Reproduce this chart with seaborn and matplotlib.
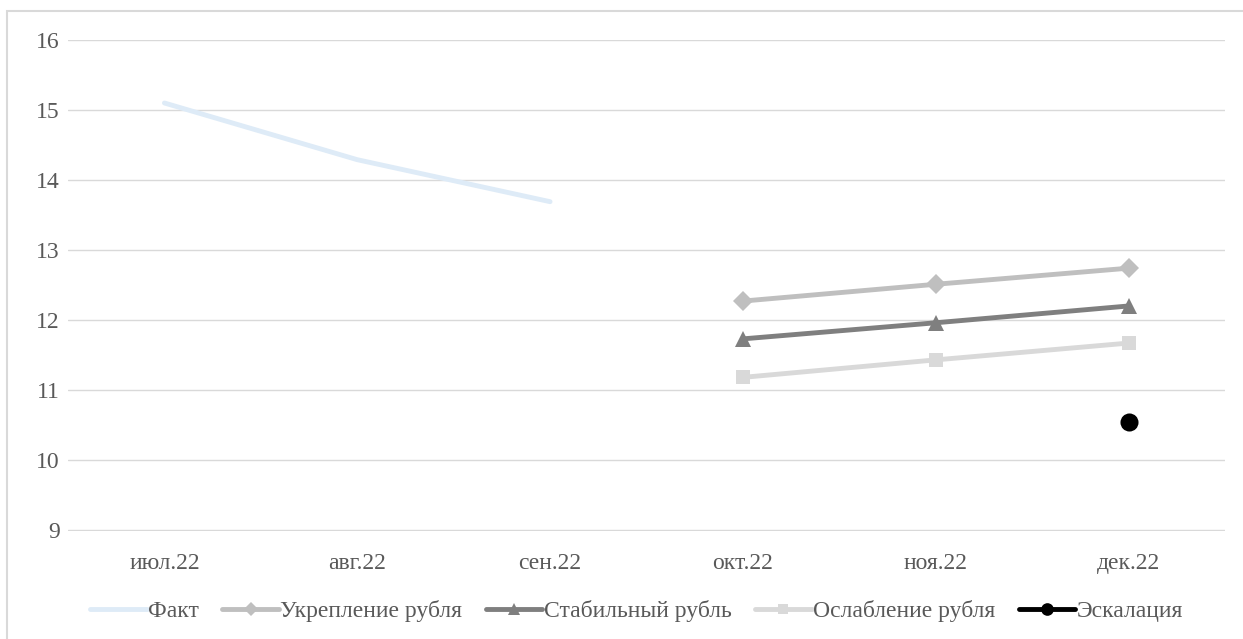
import matplotlib
matplotlib.use("Agg")
import matplotlib.pyplot as plt
import seaborn as sns
import pandas as pd

months = ["июл.22", "авг.22", "сен.22", "окт.22", "ноя.22", "дек.22"]

fact = [15.10, 14.29, 13.69, None, None, None]
strong_rub = [None, None, None, 12.27, 12.51, 12.74]
stable_rub = [None, None, None, 11.73, 11.96, 12.20]
weak_rub = [None, None, None, 11.18, 11.43, 11.67]
escalation = [None, None, None, None, None, 10.54]

series_names = ["Факт", "Укрепление рубля", "Стабильный рубль", "Ослабление рубля", "Эскалация"]
series_values = [fact, strong_rub, stable_rub, weak_rub, escalation]
series_colors = ["#DEEBF7", "#BFBFBF", "#7F7F7F", "#D9D9D9", "#000000"]
series_markers = [None, "D", "^", "s", "o"]
marker_sizes = [0, 10, 12, 10, 13]

sns.set_theme(style="white")
plt.rcParams["font.family"] = ["Liberation Serif", "DejaVu Serif"]

rows = []
for name, vals in zip(series_names, series_values):
    for i, v in enumerate(vals):
        if v is not None:
            rows.append({"series": name, "x": i, "value": v})
df = pd.DataFrame(rows)

fig = plt.figure(figsize=(12.43, 6.39), dpi=100)
ax = fig.add_axes([68 / 1243, 1 - 531 / 639, (1225 - 68) / 1243, (531 - 40) / 639])

for name, color, mk, ms in zip(series_names, series_colors, series_markers, marker_sizes):
    sub = df[df["series"] == name]
    sns.lineplot(data=sub, x="x", y="value", ax=ax, color=color, linewidth=3.5,
                 marker=mk if mk else None, markersize=ms, markeredgewidth=0,
                 label=name, legend=False, zorder=3)

ax.set_xlim(-0.5, 5.5)
ax.set_ylim(8.985, 16)
ax.set_yticks(range(9, 17))
ax.set_xticks(range(len(months)))
ax.set_xticklabels(months)
ax.set_xlabel("")
ax.set_ylabel("")
ax.grid(axis="y", color="#D9D9D9", linewidth=1)
ax.grid(axis="x", visible=False)
for s in ax.spines.values():
    s.set_visible(False)
ax.tick_params(axis="both", length=0, labelsize=17, labelcolor="#595959")
ax.tick_params(axis="x", pad=16)
ax.tick_params(axis="y", pad=6)

handles, labels = ax.get_legend_handles_labels()
leg = fig.legend(handles, labels, loc="center", bbox_to_anchor=(0.512, 1 - 611 / 639),
                 ncol=5, frameon=False, fontsize=17, handlelength=2.4,
                 handletextpad=0.05, columnspacing=1.0, markerscale=0.7)
for t in leg.get_texts():
    t.set_color("#595959")

# chart area border
border = plt.Rectangle((7 / 1243, -0.01), 1.02, 1 - 11 / 639 + 0.01, transform=fig.transFigure,
                       fill=False, edgecolor="#D9D9D9", linewidth=1.5)
fig.patches.append(border)

fig.savefig("out.png", dpi=100, facecolor="white")
